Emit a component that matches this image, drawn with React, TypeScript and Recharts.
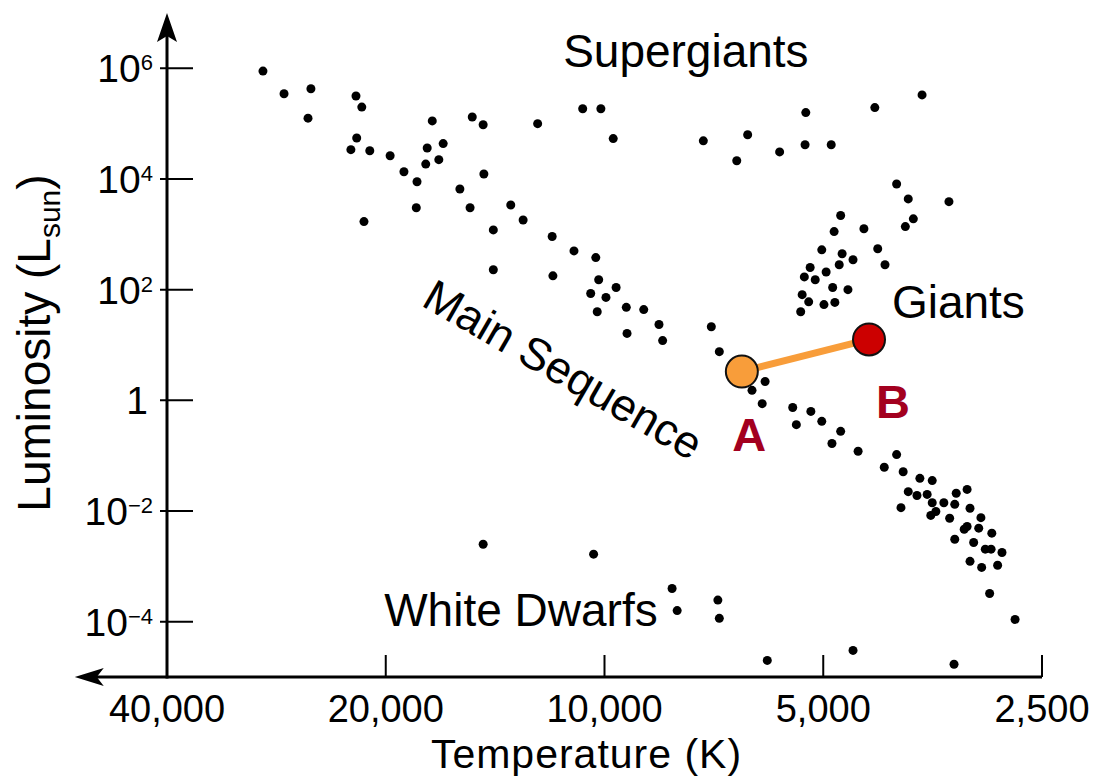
import React from 'react'
import { ScatterChart, Scatter, XAxis, YAxis, ReferenceLine, ReferenceDot } from 'recharts'

const FONT = '"Liberation Sans", Arial, Helvetica, sans-serif'

// axis ticks
const TEMP_TICKS = [40000, 20000, 10000, 5000, 2500]
const LUM_EXPONENTS = [6, 4, 2, 0, -2, -4]

// stars: log10 of temperature (K) and log10 of luminosity (L_sun)
const STAR_LOG_TEMP = [
  4.470, 4.441, 4.404, 4.408, 4.342, 4.334, 4.237, 4.182, 4.167, 4.341,
  4.349, 4.323, 4.295, 4.244, 4.222, 4.246, 4.228, 4.276, 4.258, 4.199,
  4.166, 4.259, 4.185, 4.153, 4.331, 4.092, 4.030, 4.005, 3.988, 3.864,
  4.129, 4.112, 4.072, 4.042, 4.012, 4.153, 4.071, 4.008, 3.984, 4.019,
  3.998, 4.010, 3.970, 3.946, 3.969, 3.925, 3.920, 3.853, 3.842, 3.563,
  3.628, 3.723, 3.803, 3.818, 3.759, 3.724, 3.688, 3.598, 3.582, 3.526,
  3.575, 3.586, 3.675, 3.684, 3.643, 3.701, 3.673, 3.658, 3.624, 3.614,
  3.677, 3.717, 3.695, 3.725, 3.710, 3.686, 3.665, 3.728, 3.719, 3.698,
  3.683, 3.730, 3.779, 3.797, 3.783, 3.741, 3.716, 3.736, 3.701, 3.675,
  3.687, 3.651, 3.615, 3.598, 3.589, 3.566, 3.549, 3.582, 3.570, 3.556,
  3.592, 3.549, 3.544, 3.551, 3.533, 3.516, 3.501, 3.518, 3.497, 3.525,
  3.482, 3.505, 3.501, 3.485, 3.467, 3.518, 3.492, 3.476, 3.468, 3.453,
  3.497, 3.481, 3.459, 3.470, 3.435, 4.167, 4.015, 3.907, 3.900, 3.844,
  3.842, 3.776, 3.658, 3.519,
]
const STAR_LOG_LUM = [
  5.95, 5.54, 5.63, 5.10, 5.50, 5.30, 5.05, 5.12, 4.98, 4.74,
  4.53, 4.51, 4.42, 4.56, 4.64, 4.27, 4.35, 4.13, 3.95, 3.82,
  4.09, 3.48, 3.48, 3.08, 3.23, 5.00, 5.27, 5.27, 4.73, 4.69,
  3.53, 3.26, 2.96, 2.70, 2.58, 2.36, 2.25, 2.18, 2.04, 1.93,
  1.86, 1.60, 1.68, 1.64, 1.21, 1.37, 1.08, 1.33, 0.88, 5.52,
  5.29, 5.20, 4.80, 4.33, 4.49, 4.62, 4.62, 3.91, 3.64, 3.59,
  3.28, 3.14, 3.34, 3.05, 3.10, 2.72, 2.65, 2.54, 2.74, 2.45,
  2.45, 2.40, 2.32, 2.23, 2.18, 2.04, 2.00, 1.91, 1.78, 1.73,
  1.77, 1.60, 0.34, 0.18, -0.06, -0.13, -0.20, -0.44, -0.38, -0.56,
  -0.78, -0.92, -1.21, -0.98, -1.29, -1.41, -1.45, -1.65, -1.72, -1.70,
  -1.94, -1.85, -2.01, -2.08, -1.85, -1.68, -1.61, -1.88, -1.95, -2.13,
  -2.12, -2.33, -2.28, -2.31, -2.40, -2.51, -2.57, -2.69, -2.69, -2.75,
  -2.91, -3.02, -2.98, -3.49, -3.96, -2.60, -2.78, -3.40, -3.80, -3.61,
  -3.94, -4.70, -4.52, -4.77,
]

// the A -> B track
const TRACK_NAMES = ['A', 'B']
const TRACK_LOG_TEMP = [3.811, 3.636]
const TRACK_LOG_LUM = [0.52, 1.10]

const T_MIN = Math.log10(2500)
const T_MAX = Math.log10(40000)
const X_ARROW_TIP = 4.729

const stars = STAR_LOG_TEMP.map((t, i) => ({ t, l: STAR_LOG_LUM[i] }))
const track = TRACK_NAMES.map((name, i) => ({ name, t: TRACK_LOG_TEMP[i], l: TRACK_LOG_LUM[i] }))

const StarDot = (p: any) => <circle cx={p.cx} cy={p.cy} r={4.5} fill="#000" />

const TempTick = ({ x, y, payload }: any) => (
  <g>
    <line x1={x} x2={x} y1={y} y2={y - 22} stroke="#000" strokeWidth={2} />
    <text x={x} y={y + 45} textAnchor="middle" fontSize={38} fontFamily={FONT} fill="#000">
      {Math.round(10 ** payload.value).toLocaleString('en-US')}
    </text>
  </g>
)

const LumTick = ({ x, y, payload }: any) => {
  const e = payload.value
  return (
    <g>
      <line x1={x - 7} x2={x + 26} y1={y} y2={y} stroke="#000" strokeWidth={2} />
      {e === 0 ? (
        <text x={x - 19} y={y + 14} textAnchor="end" fontSize={39} fontFamily={FONT} fill="#000">1</text>
      ) : (
        <text x={x - 14} y={y + 14} textAnchor="end" fontSize={39} fontFamily={FONT} fill="#000">
          <tspan>10</tspan>
          <tspan dy={-12} fontSize={22}>{e < 0 ? '\u2212' + -e : e}</tspan>
        </text>
      )}
    </g>
  )
}

const YAxisLine = (p: any) => {
  const top = Math.min(p.y1, p.y2)
  const bottom = Math.max(p.y1, p.y2)
  const x = p.x1
  return (
    <g>
      <line x1={x} x2={x} y1={bottom + 1.5} y2={top + 12} stroke="#000" strokeWidth={3} />
      <path d={`M${x},${top} L${x + 10},${top + 29} L${x},${top + 23} L${x - 10},${top + 29} Z`} fill="#000" />
    </g>
  )
}

const XAxisLine = (p: any) => {
  const left = Math.min(p.x1, p.x2)
  const right = Math.max(p.x1, p.x2)
  const y = p.y1
  return (
    <g>
      <line x1={left + 12} x2={right} y1={y} y2={y} stroke="#000" strokeWidth={3} />
      <path d={`M${left},${y} L${left + 29},${y - 9} L${left + 22},${y} L${left + 29},${y + 9} Z`} fill="#000" />
    </g>
  )
}

const textLabel = (text: string, opts: any = {}) => (p: any) => (
  <text
    x={p.cx}
    y={p.cy}
    textAnchor="middle"
    fontSize={opts.size || 46}
    fontWeight={opts.weight || 'normal'}
    fontFamily={FONT}
    fill={opts.color || '#000'}
    transform={opts.angle ? `rotate(${opts.angle} ${p.cx} ${p.cy})` : undefined}
  >
    {text}
  </text>
)

export default function App() {
  return (
    <div style={{ position: 'absolute', left: 0, top: 0, width: 1096, height: 776, background: '#fff' }}>
      <ScatterChart width={1096} height={776} margin={{ top: 13, right: 54, bottom: 0, left: 0 }}>
        <XAxis
          type="number"
          dataKey="t"
          domain={[T_MIN, T_MAX]}
          reversed
          allowDataOverflow
          ticks={TEMP_TICKS.map(v => Math.log10(v))}
          interval={0}
          axisLine={false}
          tickLine={false}
          tickSize={0}
          tickMargin={0}
          tick={<TempTick />}
          height={99}
          label={{
            content: (p: any) => {
              const vb = p.viewBox || { x: 167, y: 677, width: 875 }
              return (
                <text x={vb.x + vb.width / 2 - 18} y={vb.y + 91} textAnchor="middle" fontSize={41} letterSpacing={1} fontFamily={FONT} fill="#000">
                  Temperature (K)
                </text>
              )
            },
          }}
        />
        <YAxis
          type="number"
          dataKey="l"
          domain={[-5, 7]}
          allowDataOverflow
          ticks={LUM_EXPONENTS}
          interval={0}
          axisLine={false}
          tickLine={false}
          tickSize={0}
          tickMargin={0}
          tick={<LumTick />}
          width={167}
          label={{
            content: (p: any) => {
              const vb = p.viewBox || { x: 0, y: 13, width: 167, height: 664 }
              const cx = vb.x + 50
              const cy = vb.y + vb.height / 2 - 2
              return (
                <text x={cx} y={cy} textAnchor="middle" fontSize={46} fontFamily={FONT} fill="#000" transform={`rotate(-90 ${cx} ${cy})`}>
                  Luminosity (L<tspan dy={10} fontSize={30}>sun</tspan><tspan dy={-10}>)</tspan>
                </text>
              )
            },
          }}
        />

        <ReferenceLine x={T_MAX} ifOverflow="visible" shape={YAxisLine} />
        <ReferenceLine segment={[{ x: X_ARROW_TIP, y: -5 }, { x: T_MIN, y: -5 }]} ifOverflow="visible" shape={XAxisLine} />

        <ReferenceDot x={3.888} y={6.025} ifOverflow="visible" shape={textLabel('Supergiants')} />
        <ReferenceDot x={3.513} y={1.494} ifOverflow="visible" shape={textLabel('Giants')} />
        <ReferenceDot x={4.115} y={-4.083} ifOverflow="visible" shape={textLabel('White Dwarfs')} />
        <ReferenceDot x={4.0675} y={0.312} ifOverflow="visible" shape={textLabel('Main Sequence', { size: 45, angle: 30 })} />

        <Scatter data={stars} shape={StarDot} isAnimationActive={false} />

        <Scatter data={track} line={{ stroke: '#f89d3a', strokeWidth: 7 }} shape={() => <g />} isAnimationActive={false} />
        <Scatter
          data={[track[0]]}
          shape={(p: any) => <circle cx={p.cx} cy={p.cy} r={16} fill="#f89d3a" stroke="#111" strokeWidth={2} />}
          isAnimationActive={false}
        />
        <Scatter
          data={[track[1]]}
          shape={(p: any) => <circle cx={p.cx} cy={p.cy} r={16} fill="#cc0000" stroke="#111" strokeWidth={2} />}
          isAnimationActive={false}
        />

        <ReferenceDot x={3.801} y={-0.924} ifOverflow="visible" shape={textLabel('A', { size: 47, weight: 'bold', color: '#a3001f' })} />
        <ReferenceDot x={3.603} y={-0.316} ifOverflow="visible" shape={textLabel('B', { size: 47, weight: 'bold', color: '#a3001f' })} />
      </ScatterChart>
    </div>
  )
}
